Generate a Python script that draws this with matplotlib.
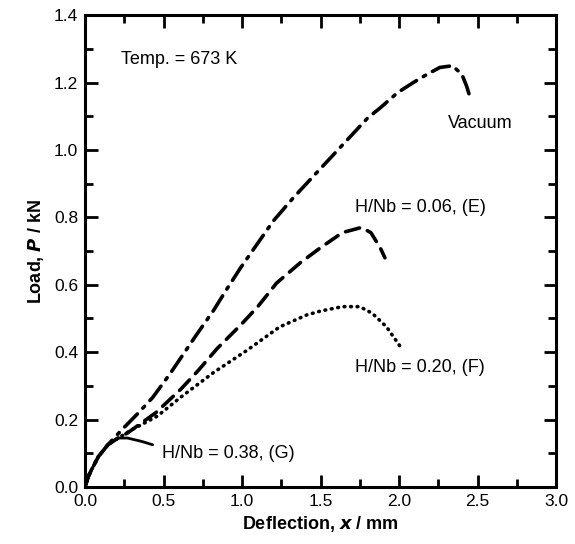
import numpy as np
import matplotlib
matplotlib.use('Agg')
import matplotlib.pyplot as plt
from matplotlib.ticker import MultipleLocator, FormatStrFormatter

plt.rcParams['font.family'] = ['Liberation Sans', 'DejaVu Sans']

# Vacuum
vac_x = [0.0, 0.02, 0.04, 0.085, 0.145, 0.235, 0.33, 0.43, 0.54, 0.62, 0.70, 0.82, 0.90,
         0.99, 1.11, 1.20, 1.33, 1.45, 1.53, 1.64, 1.73, 1.80, 1.88, 1.99, 2.09, 2.18,
         2.26, 2.34, 2.40, 2.43, 2.45]
vac_y = [0.0, 0.03, 0.05, 0.09, 0.125, 0.17, 0.215, 0.265, 0.335, 0.39, 0.445, 0.525, 0.585,
         0.65, 0.73, 0.79, 0.86, 0.92, 0.96, 1.015, 1.06, 1.095, 1.125, 1.17, 1.20, 1.225,
         1.245, 1.25, 1.225, 1.19, 1.16]
# H/Nb = 0.06, (E)
e_x = [0.0, 0.02, 0.04, 0.085, 0.145, 0.21, 0.27, 0.36, 0.45, 0.61, 0.72, 0.84, 0.99,
       1.10, 1.22, 1.37, 1.50, 1.64, 1.76, 1.82, 1.88, 1.91]
e_y = [0.0, 0.03, 0.05, 0.09, 0.125, 0.145, 0.16, 0.19, 0.22, 0.29, 0.345, 0.41, 0.48,
       0.535, 0.605, 0.665, 0.71, 0.755, 0.77, 0.755, 0.71, 0.68]
# H/Nb = 0.20, (F)
f_x = [0.0, 0.02, 0.04, 0.085, 0.145, 0.21, 0.30, 0.46, 0.62, 0.82, 1.03, 1.24, 1.41,
       1.50, 1.64, 1.75, 1.83, 1.92, 2.01]
f_y = [0.0, 0.03, 0.05, 0.09, 0.125, 0.145, 0.17, 0.21, 0.27, 0.34, 0.405, 0.475, 0.51,
       0.522, 0.535, 0.535, 0.515, 0.475, 0.415]
# H/Nb = 0.38, (G)
g_x = [0.0, 0.02, 0.04, 0.085, 0.145, 0.21, 0.27, 0.36, 0.43]
g_y = [0.0, 0.03, 0.05, 0.09, 0.125, 0.145, 0.145, 0.135, 0.125]

fig = plt.figure(figsize=(5.75, 5.44), dpi=100)
ax = fig.add_axes([0.148, 0.105, 0.819, 0.867])

lw = 2.6
ax.plot(vac_x, vac_y, color='black', lw=lw, dashes=(5, 2.2, 0.7, 2.2),
        dash_capstyle='round', solid_joinstyle='round')
ax.plot(e_x, e_y, color='black', lw=lw, dashes=(4, 2.4), dash_capstyle='round')
ax.plot(f_x, f_y, color='black', lw=lw, dashes=(0.2, 1.6), dash_capstyle='round')
ax.plot(g_x, g_y, color='black', lw=2.0, solid_capstyle='round')

ax.set_xlim(0, 3.0)
ax.set_ylim(0, 1.4)
ax.xaxis.set_major_locator(MultipleLocator(0.5))
ax.xaxis.set_minor_locator(MultipleLocator(0.25))
ax.yaxis.set_major_locator(MultipleLocator(0.2))
ax.yaxis.set_minor_locator(MultipleLocator(0.1))
ax.xaxis.set_major_formatter(FormatStrFormatter('%.1f'))
ax.yaxis.set_major_formatter(FormatStrFormatter('%.1f'))
ax.tick_params(which='both', direction='in', top=True, right=True, width=2, labelsize=12.5,
               colors='black')
ax.tick_params(which='major', length=9, pad=5)
ax.tick_params(which='minor', length=6)
for s in ax.spines.values():
    s.set_linewidth(2.2)

ax.set_xlabel('Deflection, $\\boldsymbol{x}$ / mm', fontsize=13, fontweight='bold', labelpad=4)
ax.set_ylabel('Load, $\\boldsymbol{P}$ / kN', fontsize=13, fontweight='bold', labelpad=6)

ax.text(0.23, 1.27, 'Temp. = 673 K', fontsize=13, va='center')
ax.text(2.31, 1.08, 'Vacuum', fontsize=13, va='center')
ax.text(1.72, 0.83, 'H/Nb = 0.06, (E)', fontsize=13, va='center')
ax.text(1.72, 0.355, 'H/Nb = 0.20, (F)', fontsize=13, va='center')
ax.text(0.49, 0.10, 'H/Nb = 0.38, (G)', fontsize=13, va='center')

fig.savefig('out.png', dpi=100)
